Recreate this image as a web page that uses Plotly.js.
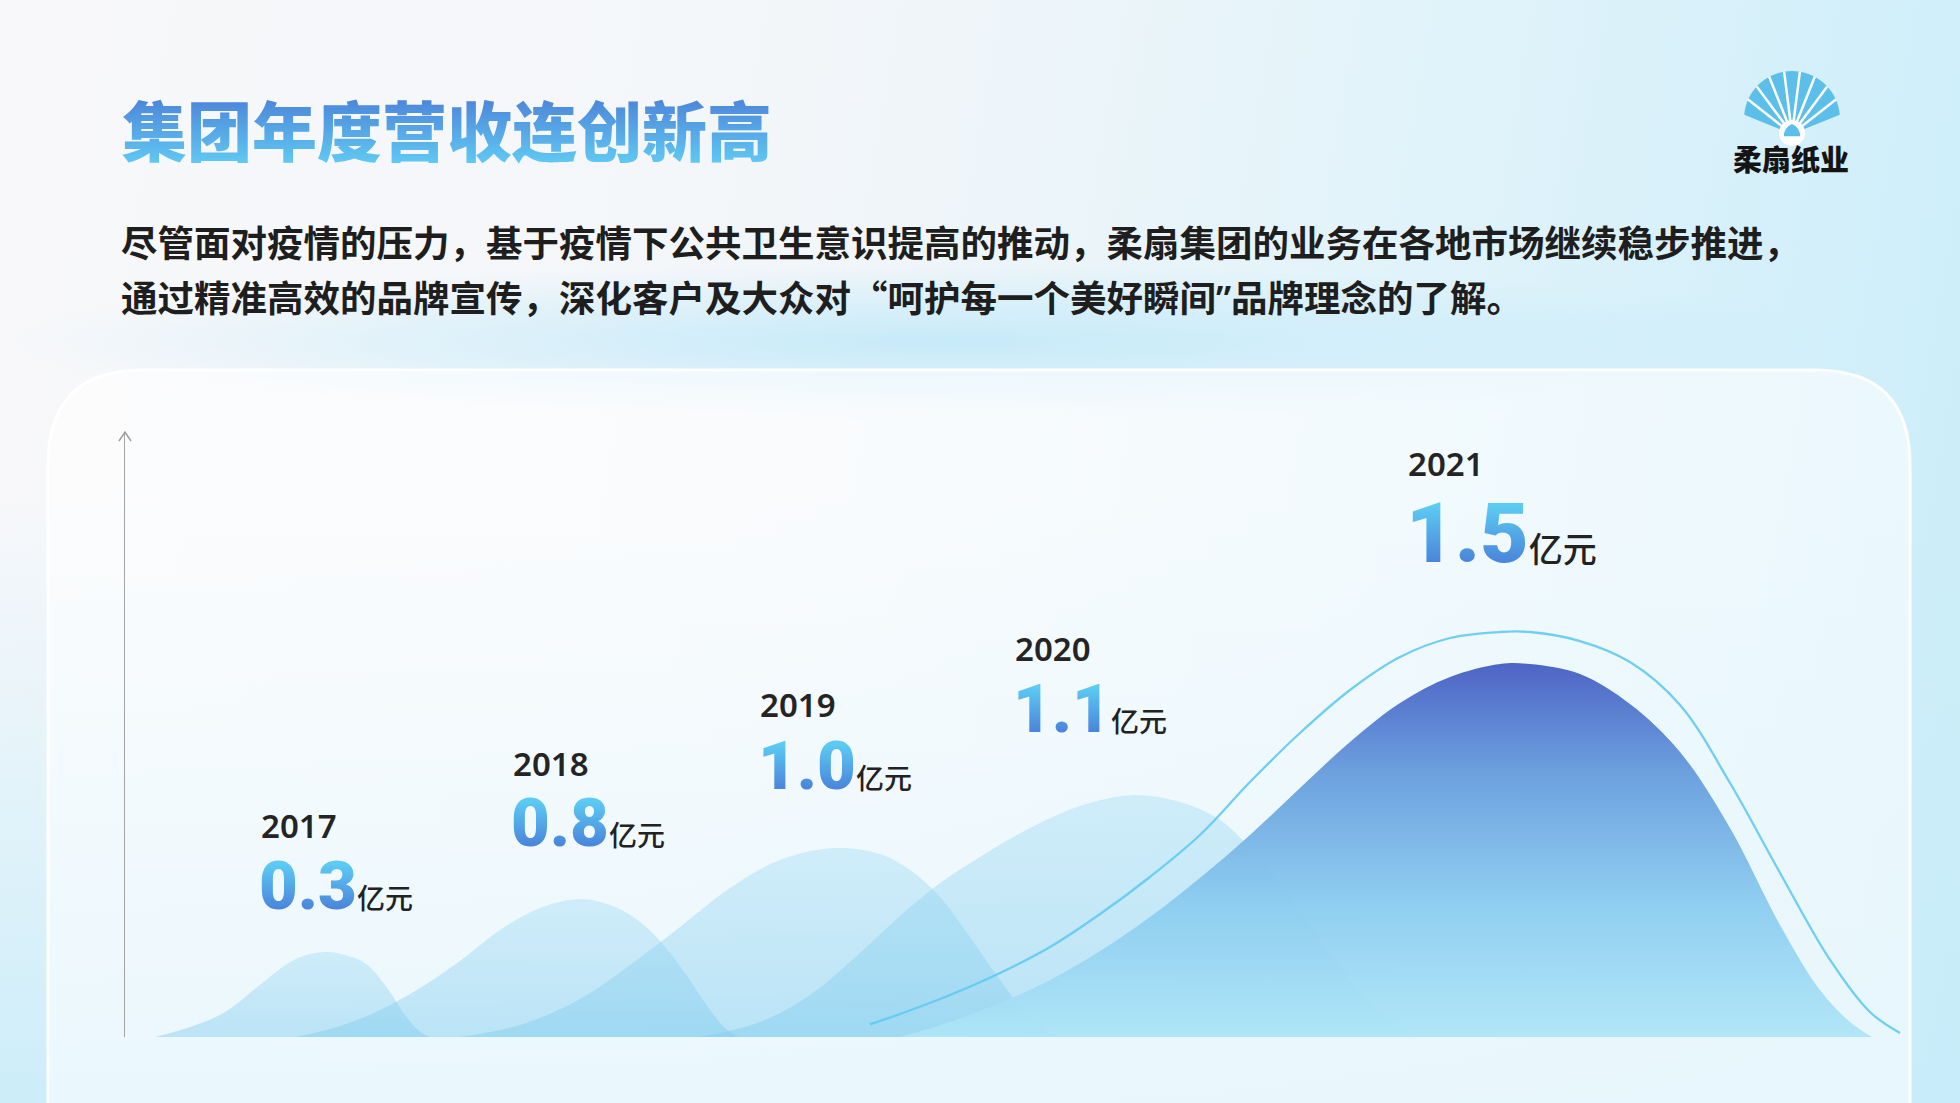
<!DOCTYPE html>
<html>
<head>
<meta charset="utf-8">
<script src="https://cdn.plot.ly/plotly-3.0.1.min.js"></script>
<style>
  html, body { margin: 0; padding: 0; width: 1960px; height: 1103px; overflow: hidden; }
  body {
    background:
      radial-gradient(ellipse 48% 7% at 48% 31%, rgba(196,234,249,0.95) 0%, rgba(196,234,249,0) 100%),
      linear-gradient(to top, rgba(200,236,249,0.9) 0%, rgba(200,236,249,0) 55%),
      linear-gradient(100deg, #f8f8fa 0%, #f3f6f9 38%, #e2f3fa 66%, #c9edf9 100%);
  }
  #chart { width: 1960px; height: 1103px; }
</style>
</head>
<body>
<svg width="0" height="0" style="position:absolute"><defs id="gdefs"></defs></svg>
<div id="chart"></div>
<script>
// ---------------- data ----------------
const years   = ['2017', '2018', '2019', '2020', '2021'];
const revenue = [0.3, 0.8, 1.0, 1.1, 1.5];
const unitLabel = '亿元';

const titleText = '集团年度营收连创新高';
const bodyLine1 = '尽管面对疫情的压力，基于疫情下公共卫生意识提高的推动，柔扇集团的业务在各地市场继续稳步推进，';
const bodyLine2a = '通过精准高效的品牌宣传，深化客户及大众对“';
const bodyQuote = '呵护每一个美好瞬间';
const bodyLine2b = '品牌理念的了解。';
const logoText = '柔扇纸业';

// mountain outlines (x: 0–100 along the chart, y: 0–100 height)
const m2017x = [1.69, 3.65, 5.62, 7.58, 9.27, 10.39, 11.40, 12.36, 13.48, 14.61, 15.73, 16.46, 17.13];
const m2017y = [0, 1.65, 4.13, 8.60, 12.40, 13.72, 14.05, 13.55, 12.23, 8.60, 3.64, 1.16, 0];
const m2018x = [9.61, 12.08, 14.33, 16.57, 18.82, 21.07, 23.31, 25.56, 27.25, 28.65, 30.06, 31.46, 32.87, 33.71, 34.44];
const m2018y = [0, 1.82, 4.46, 8.10, 12.56, 17.69, 21.32, 22.81, 21.82, 19.67, 15.87, 10.58, 4.46, 1.49, 0];
const m2019x = [18.82, 22.19, 25.56, 28.37, 31.18, 33.99, 36.80, 39.89, 42.42, 44.10, 45.79, 47.47, 49.16, 50.84, 52.42];
const m2019y = [0, 1.98, 6.28, 11.90, 18.18, 24.63, 29.26, 31.24, 30.25, 27.60, 23.14, 16.53, 9.42, 3.14, 0];
const m2020x = [32.30, 35.67, 38.48, 41.29, 43.54, 45.79, 48.03, 50.84, 53.65, 56.63, 59.27, 61.52, 63.20, 64.89, 66.57, 68.26, 69.94, 71.63, 72.75];
const m2020y = [0, 2.48, 6.94, 13.88, 20.00, 25.45, 29.75, 34.55, 38.18, 40.00, 38.84, 35.87, 31.24, 25.45, 18.51, 11.74, 5.62, 1.65, 0];
const m2021x = [43.54, 46.35, 49.16, 51.97, 54.78, 57.58, 60.39, 63.20, 66.01, 68.82, 71.63, 74.44, 77.25, 78.93, 81.74, 84.55, 87.36, 90.17, 92.98, 95.22, 96.91, 98.15];
const m2021y = [0, 2.48, 5.62, 9.42, 14.21, 19.83, 26.28, 33.39, 41.16, 48.76, 55.21, 59.50, 61.65, 61.65, 60.00, 55.04, 47.11, 34.55, 18.51, 7.77, 2.48, 0];
const crestX = [41.85, 43.54, 46.35, 49.16, 51.97, 54.78, 57.58, 60.39, 63.20, 66.01, 68.82, 71.63, 74.44, 77.25, 78.93, 81.74, 84.55, 87.36, 90.17, 92.98, 95.79, 98.03, 99.72];
const crestY = [2.10, 3.80, 6.94, 10.58, 14.88, 20.33, 26.45, 33.39, 42.15, 50.25, 57.36, 62.81, 65.95, 66.94, 66.94, 65.45, 61.98, 54.88, 41.98, 27.11, 12.73, 4.13, 0.66];

// ---------------- layout helpers (positions, not data) ----------------
const W = 1960, H = 1103;
const px = X => X / W;
const py = Y => 1 - Y / H;
const P = (X, Y) => px(X).toFixed(5) + ',' + py(Y).toFixed(5);

const labelLeft  = [259, 511, 758, 1013, 1406];
const yearCenter = [825, 763, 704, 648, 463];
const numCenter  = [886, 823, 766, 709, 533];
const numSize    = [67, 67, 67, 67, 84];
const unitSize   = [28, 28, 28, 28, 34];

const CJK = "'Noto Sans CJK SC', 'Noto Sans', sans-serif";
const NUM = "Roboto, Inter, 'Noto Sans', sans-serif";

// ---------------- traces ----------------
function mountain(x, y, name) {
  return { type: 'scatter', x: x, y: y, name: name, mode: 'lines',
    line: { shape: 'spline', smoothing: 1, width: 0, color: 'rgba(0,0,0,0)' },
    fill: 'toself', fillcolor: 'rgba(140,210,240,0.40)',
    fillgradient: { type: 'vertical', colorscale: [[0, 'rgba(128,204,238,0.46)'], [1, 'rgba(150,214,242,0.36)']] },
    hoverinfo: 'skip' };
}
const traces = [
  mountain(m2017x, m2017y, years[0]),
  mountain(m2018x, m2018y, years[1]),
  mountain(m2019x, m2019y, years[2]),
  mountain(m2020x, m2020y, years[3]),
  { type: 'scatter', x: m2021x, y: m2021y, name: years[4], mode: 'lines',
    line: { shape: 'spline', smoothing: 1, width: 0, color: 'rgba(0,0,0,0)' },
    fill: 'toself', fillcolor: 'rgba(110,170,230,0.9)',
    fillgradient: { type: 'vertical', colorscale: [
      [0, 'rgba(174,229,247,0.94)'], [0.35, 'rgba(140,205,240,0.95)'],
      [0.7, 'rgba(106,160,222,0.98)'], [1, 'rgb(78,100,197)'] ] },
    hoverinfo: 'skip' },
  { type: 'scatter', x: crestX, y: crestY, mode: 'lines', name: 'crest',
    line: { shape: 'spline', smoothing: 1, width: 2.3, color: 'rgba(96,202,240,0.9)' },
    hoverinfo: 'skip' }
];

// ---------------- shapes ----------------
const shapes = [];
(function () {
  const x0 = 48, x1 = 1910, y0 = 370, y1 = 1130, r = 95;
  const path = 'M' + P(x0, y1) + ' L' + P(x0, y0 + r) + ' Q' + P(x0, y0) + ' ' + P(x0 + r, y0) +
    ' L' + P(x1 - r, y0) + ' Q' + P(x1, y0) + ' ' + P(x1, y0 + r) + ' L' + P(x1, y1) + ' Z';
  shapes.push({ type: 'path', xref: 'paper', yref: 'paper', path: path, layer: 'below',
    fillcolor: 'rgba(255,255,255,0.58)', line: { color: 'rgba(255,255,255,0.95)', width: 3 } });
})();
shapes.push({ type: 'path', xref: 'paper', yref: 'paper',
  path: 'M' + P(119, 441) + ' L' + P(125, 432) + ' L' + P(131, 441),
  line: { color: '#9c9c9c', width: 1.5 } });
(function () {
  const cx = 1792, cy = 119, R = 48, pvx = 1792, pvy = 134;
  const arc = d => { const a = d * Math.PI / 180; return [cx + R * Math.sin(a), cy - R * Math.cos(a)]; };
  let path = 'M' + P(pvx, pvy);
  for (let d = -85; d <= 85; d += 5) { const q = arc(d); path += ' L' + P(q[0], q[1]); }
  path += ' Z';
  shapes.push({ type: 'path', xref: 'paper', yref: 'paper', path: path,
    fillcolor: '#5cbfe9', line: { width: 0 } });
  for (let k = 1; k < 9; k++) {
    const q = arc(-85 + 170 * k / 9);
    shapes.push({ type: 'path', xref: 'paper', yref: 'paper',
      path: 'M' + P(pvx, pvy) + ' L' + P(q[0], q[1]), line: { color: '#ffffff', width: 2.5 } });
  }
  shapes.push({ type: 'circle', xref: 'paper', yref: 'paper',
    x0: px(1779), x1: px(1805), y0: py(146), y1: py(120), fillcolor: '#ffffff', line: { width: 0 } });
  shapes.push({ type: 'path', xref: 'paper', yref: 'paper',
    path: 'M' + P(1783, 137) + ' Q' + P(1783, 127) + ' ' + P(1792, 123) + ' Q' + P(1801, 127) + ' ' + P(1801, 137) + ' Z',
    fillcolor: '#5cbfe9', line: { color: '#ffffff', width: 1.5 } });
})();

// ---------------- annotations ----------------
const ann = [];
const gradTargets = [];
ann.push({ xref: 'paper', yref: 'paper', x: px(120), y: py(128), xanchor: 'left', yanchor: 'middle',
  text: titleText, showarrow: false, font: { family: CJK, size: 65, weight: 900, color: '#57a6e6' } });
gradTargets.push({ idx: 0, id: 'gTitle', stops: [[0.12, '#4b7fd7'], [0.88, '#60c9f3']] });
ann.push({ xref: 'paper', yref: 'paper', x: px(119), y: py(241), xanchor: 'left', yanchor: 'middle',
  text: bodyLine1, showarrow: false, font: { family: CJK, size: 36.5, weight: 600, color: '#1e1e1e' } });
const q = s => '<span style="font-family:Noto Sans">' + s + '</span>';
ann.push({ xref: 'paper', yref: 'paper', x: px(119), y: py(296), xanchor: 'left', yanchor: 'middle',
  text: bodyLine2a + bodyQuote + q('”') + bodyLine2b, showarrow: false,
  font: { family: CJK, size: 36.5, weight: 600, color: '#1e1e1e' } });
ann.push({ xref: 'paper', yref: 'paper', x: px(1791), y: py(158), xanchor: 'center', yanchor: 'middle',
  text: logoText, showarrow: false, font: { family: CJK, size: 29, weight: 900, color: '#141414' } });

years.forEach((yr, i) => {
  ann.push({ xref: 'paper', yref: 'paper', x: px(labelLeft[i]), y: py(yearCenter[i]),
    xanchor: 'left', yanchor: 'middle', text: yr, showarrow: false,
    font: { family: "'Noto Sans', Roboto, sans-serif", size: 33, weight: 600, color: '#242424' } });
  const idx = ann.length;
  ann.push({ xref: 'paper', yref: 'paper', x: px(labelLeft[i] - 2), y: py(numCenter[i]),
    xanchor: 'left', yanchor: 'middle', showarrow: false,
    text: revenue[i].toFixed(1) + '<span style="font-size:' + unitSize[i] + 'px;fill:#222222;font-weight:500;font-family:Noto Sans CJK SC">' + unitLabel + '</span>',
    font: { family: NUM, size: numSize[i], weight: 900, color: '#55a9e8' } });
  gradTargets.push({ idx: idx, id: 'gNum' + i, stops: [[0.22, '#5ccbf3'], [0.78, '#4a86db']] });
});

const layout = {
  width: W, height: H, margin: { l: 0, r: 0, t: 0, b: 0, pad: 0 },
  paper_bgcolor: 'rgba(0,0,0,0)', plot_bgcolor: 'rgba(0,0,0,0)', showlegend: false,
  xaxis: { domain: [px(125), px(1905)], range: [0, 100], visible: false, fixedrange: true },
  yaxis: { domain: [py(1037), py(432)], range: [0, 100], showline: true, linecolor: '#a4a4a4', linewidth: 1.5,
    showticklabels: false, ticks: '', showgrid: false, zeroline: false, fixedrange: true },
  shapes: shapes, annotations: ann
};

Plotly.newPlot('chart', traces, layout, { staticPlot: true, displayModeBar: false }).then(function () {
  const defs = document.getElementById('gdefs');
  const NS = 'http://www.w3.org/2000/svg';
  gradTargets.forEach(function (t) {
    const g = document.querySelector('g.annotation[data-index="' + t.idx + '"] text.annotation-text');
    if (!g) return;
    let bb; try { bb = g.getBBox(); } catch (e) { return; }
    const lg = document.createElementNS(NS, 'linearGradient');
    lg.setAttribute('id', t.id);
    lg.setAttribute('gradientUnits', 'userSpaceOnUse');
    lg.setAttribute('x1', 0); lg.setAttribute('x2', 0);
    lg.setAttribute('y1', bb.y); lg.setAttribute('y2', bb.y + bb.height);
    t.stops.forEach(function (s) {
      const st = document.createElementNS(NS, 'stop');
      st.setAttribute('offset', s[0]); st.setAttribute('stop-color', s[1]);
      lg.appendChild(st);
    });
    defs.appendChild(lg);
    g.style.fill = 'url(#' + t.id + ')';
  });
});
</script>
</body>
</html>
